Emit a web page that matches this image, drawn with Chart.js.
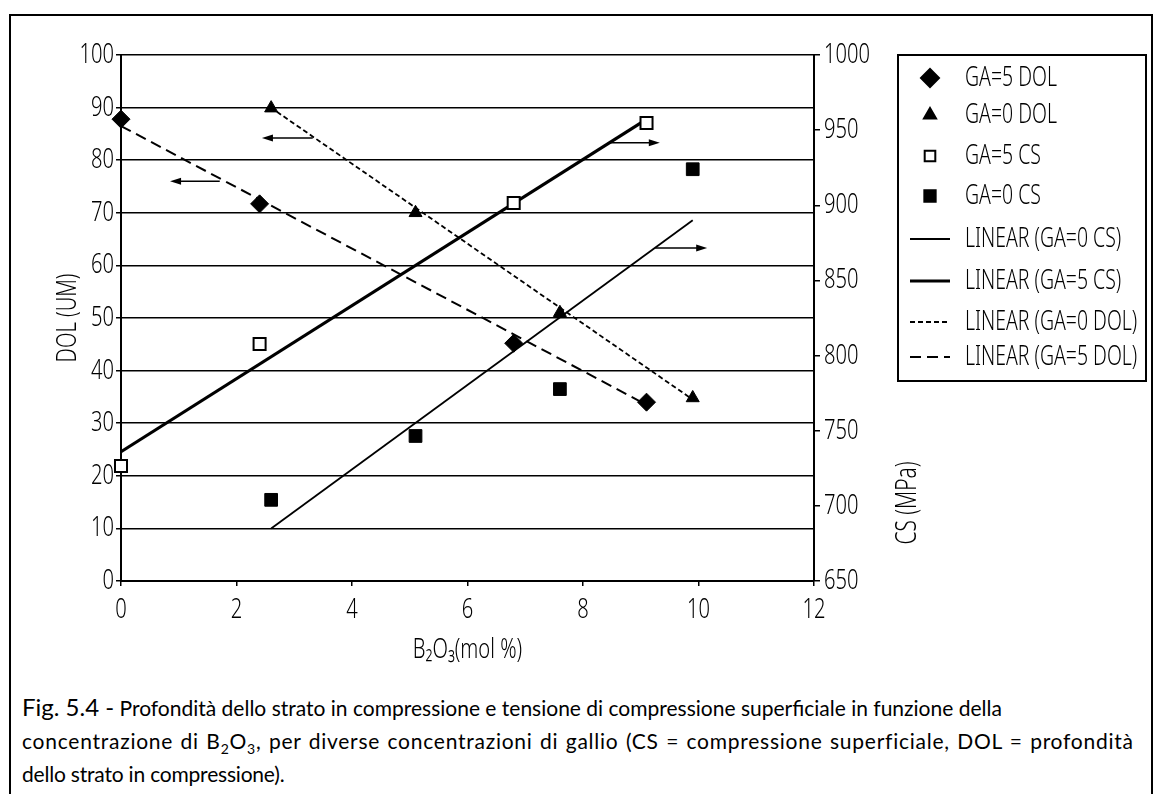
<!DOCTYPE html>
<html>
<head>
<meta charset="utf-8">
<title>DOL e CS in funzione di B2O3</title>
<script src="https://cdn.jsdelivr.net/npm/chart.js@4.4.1/dist/chart.umd.min.js"></script>
<style>
    html, body { margin: 0; padding: 0; background: #fff; }
    body { width: 1153px; height: 794px; overflow: hidden; position: relative; }
    #frame { position: absolute; left: 9px; top: 14px; width: 1140px; height: 800px; border: 2px solid #000; }
    #chartBox { position: absolute; left: 0; top: 0; width: 1153px; height: 680px; }
    #caption { position: absolute; left: 22px; top: 690px; font-family: Lato, 'Open Sans', sans-serif; font-size: 21px; line-height: 33px; color: #000; white-space: nowrap; }
    #caption .fig { font-size: 24px; letter-spacing: 0; }
    #caption .l1 { letter-spacing: 0; }
    #caption .l2 { letter-spacing: 0.75px; word-spacing: 1.3px; }
    #caption .l3 { letter-spacing: -0.2px; }
    #caption sub { font-size: 14px; line-height: 0; }
</style>
</head>
<body>
<div id="frame"></div>
<div id="chartBox"><canvas id="b2o3Chart" width="1153" height="680"></canvas></div>
<div id="caption">
    <span class="fig">Fig. 5.4 -</span> <span class="l1">Profondità dello strato in compressione e tensione di compressione superficiale in funzione della</span><br>
    <span class="l2">concentrazione di B<sub>2</sub>O<sub>3</sub>, per diverse concentrazioni di gallio (CS = compressione superficiale, DOL = profondità</span><br>
    <span class="l3">dello strato in compressione).</span>
</div>
<script>
// measured points
const b2o3Ga5 = [0, 2.4, 6.8, 9.1];
const b2o3Ga0 = [2.6, 5.1, 7.6, 9.9];
const dolGa5 = [87.8, 71.7, 45.2, 34.0];
const dolGa0 = [89.9, 70.0, 51.0, 34.8];
const csGa5 = [726.5, 807.7, 901.5, 954.7];
const csGa0 = [704.0, 746.5, 777.7, 924.0];

// linear trend lines (end points)
const fitCsGa0X = [2.6, 9.9];
const fitCsGa0 = [685, 890];
const fitCsGa5X = [0, 9.05];
const fitCsGa5 = [736, 956];
const fitDolGa0X = [2.7, 9.9];
const fitDolGa0 = [89.2, 34.5];
const fitDolGa5X = [0, 9.1];
const fitDolGa5 = [86.5, 33.5];

// arrows telling which axis a curve belongs to (x from tail to head, DOL level)
const arrowTails = [1.71, 3.32, 8.43, 9.25];
const arrowHeads = [0.85, 2.44, 9.33, 10.15];
const arrowLevels = [76.0, 84.2, 83.3, 63.3];

const xTicks = [0, 2, 4, 6, 8, 10, 12];
const dolTicks = [0, 100, 10];
const csTicks = [650, 1000, 50];

// light face, squeezed horizontally to get a condensed look
const NARROW = "'Noto Sans', 'Open Sans', sans-serif";
const THIN = '300';
const SQUEEZE = 0.72;
const INK = '#000';
Chart.defaults.font.family = NARROW;
Chart.defaults.font.weight = THIN;
Chart.defaults.color = INK;

function condenseText(ctx, factor) {
    const fill = ctx.fillText;
    const measure = ctx.measureText;
    ctx.fillText = function (text, x, y, maxWidth) {
        this.save();
        this.translate(x, y);
        this.scale(factor, 1);
        if (maxWidth === undefined) {
            fill.call(this, text, 0, 0);
        } else {
            fill.call(this, text, 0, 0, maxWidth / factor);
        }
        this.restore();
    };
    ctx.measureText = function (text) {
        const m = measure.call(this, text);
        return {
            width: m.width * factor,
            actualBoundingBoxAscent: m.actualBoundingBoxAscent,
            actualBoundingBoxDescent: m.actualBoundingBoxDescent,
            actualBoundingBoxLeft: m.actualBoundingBoxLeft * factor,
            actualBoundingBoxRight: m.actualBoundingBoxRight * factor
        };
    };
}

const toXY = (xs, ys) => xs.map((x, i) => ({ x, y: ys[i] }));

const arrowPlugin = {
    id: 'axisArrows',
    afterDatasetsDraw(chart) {
        const { ctx, scales: { x, y } } = chart;
        ctx.save();
        ctx.strokeStyle = '#000';
        ctx.fillStyle = '#000';
        ctx.lineWidth = 1.5;
        arrowTails.forEach((tail, i) => {
            const x1 = x.getPixelForValue(tail);
            const x2 = x.getPixelForValue(arrowHeads[i]);
            const py = y.getPixelForValue(arrowLevels[i]);
            const dir = Math.sign(x2 - x1);
            ctx.beginPath();
            ctx.moveTo(x1, py);
            ctx.lineTo(x2 - dir * 8, py);
            ctx.stroke();
            ctx.beginPath();
            ctx.moveTo(x2, py);
            ctx.lineTo(x2 - dir * 11, py - 3.5);
            ctx.lineTo(x2 - dir * 11, py + 3.5);
            ctx.closePath();
            ctx.fill();
        });
        ctx.restore();
    }
};

const rightTitlePlugin = {
    id: 'rightTitle',
    afterDraw(chart) {
        const { ctx } = chart;
        const scale = chart.scales.y2;
        ctx.save();
        ctx.translate(scale.left + 94, scale.bottom - 78);
        ctx.rotate(-Math.PI / 2);
        ctx.font = `${THIN} 29px ${NARROW}`;
        ctx.fillStyle = INK;
        ctx.textAlign = 'center';
        ctx.textBaseline = 'middle';
        ctx.fillText('CS (MPa)', 0, 0);
        ctx.restore();
    }
};

const boxLegendPlugin = {
    id: 'boxLegend',
    afterDraw(chart) {
        const { ctx } = chart;
        const left = 898, top = 55, right = 1146, bottom = 381;
        const rows = [78, 115, 156, 196, 239, 281, 322, 357];
        ctx.save();
        ctx.strokeStyle = '#000';
        ctx.lineWidth = 2;
        ctx.strokeRect(left, top, right - left, bottom - top);
        ctx.font = `${THIN} 27px ${NARROW}`;
        ctx.textBaseline = 'middle';
        chart.data.datasets.forEach((ds, i) => {
            const yy = rows[i];
            if (ds.showLine) {
                ctx.save();
                ctx.strokeStyle = ds.borderColor;
                ctx.lineWidth = ds.borderWidth;
                ctx.setLineDash(ds.borderDash || []);
                ctx.beginPath();
                ctx.moveTo(910, yy);
                ctx.lineTo(950, yy);
                ctx.stroke();
                ctx.restore();
            } else {
                ctx.save();
                ctx.fillStyle = ds.backgroundColor;
                ctx.strokeStyle = ds.borderColor;
                Chart.helpers.drawPoint(ctx, {
                    pointStyle: ds.pointStyle,
                    radius: ds.legendRadius,
                    borderWidth: ds.borderWidth,
                    rotation: 0
                }, 930, yy);
                ctx.restore();
            }
            ctx.fillStyle = INK;
            ctx.fillText(ds.label, 965, yy);
        });
        ctx.restore();
    }
};

const markerDefaults = { showLine: false, clip: false, borderColor: '#000' };
const lineDefaults = { showLine: true, pointRadius: 0, clip: false, borderColor: '#000', backgroundColor: '#000' };

const canvas = document.getElementById('b2o3Chart');
condenseText(canvas.getContext('2d'), SQUEEZE);

new Chart(canvas, {
    type: 'scatter',
    data: {
        datasets: [
            { ...markerDefaults, label: 'GA=5 DOL', data: toXY(b2o3Ga5, dolGa5), yAxisID: 'y',
              pointStyle: 'rectRot', pointRadius: 9, legendRadius: 9, backgroundColor: '#000', borderWidth: 1 },
            { ...markerDefaults, label: 'GA=0 DOL', data: toXY(b2o3Ga0, dolGa0), yAxisID: 'y',
              pointStyle: 'triangle', pointRadius: 7.5, legendRadius: 7, backgroundColor: '#000', borderWidth: 1 },
            { ...markerDefaults, label: 'GA=5 CS', data: toXY(b2o3Ga5, csGa5), yAxisID: 'y2',
              pointStyle: 'rect', pointRadius: 8.5, legendRadius: 7.5, backgroundColor: '#fff', borderWidth: 2 },
            { ...markerDefaults, label: 'GA=0 CS', data: toXY(b2o3Ga0, csGa0), yAxisID: 'y2',
              pointStyle: 'rect', pointRadius: 9, legendRadius: 8, backgroundColor: '#000', borderWidth: 1 },
            { ...lineDefaults, label: 'LINEAR (GA=0 CS)', data: toXY(fitCsGa0X, fitCsGa0), yAxisID: 'y2',
              borderWidth: 1.8 },
            { ...lineDefaults, label: 'LINEAR (GA=5 CS)', data: toXY(fitCsGa5X, fitCsGa5), yAxisID: 'y2',
              borderWidth: 3.2 },
            { ...lineDefaults, label: 'LINEAR (GA=0 DOL)', data: toXY(fitDolGa0X, fitDolGa0), yAxisID: 'y',
              borderWidth: 1.8, borderDash: [5, 3] },
            { ...lineDefaults, label: 'LINEAR (GA=5 DOL)', data: toXY(fitDolGa5X, fitDolGa5), yAxisID: 'y',
              borderWidth: 2, borderDash: [11, 6] }
        ]
    },
    options: {
        responsive: false,
        animation: false,
        events: [],
        layout: { padding: { top: 55, left: 0, right: 259, bottom: 0 } },
        plugins: {
            legend: { display: false },
            tooltip: { enabled: false }
        },
        scales: {
            x: {
                type: 'linear',
                position: 'bottom',
                min: xTicks[0],
                max: xTicks[xTicks.length - 1],
                afterBuildTicks: scale => { scale.ticks = xTicks.map(v => ({ value: v })); },
                ticks: { font: { size: 28 }, padding: 7, color: INK, callback: v => String(v) },
                grid: { drawOnChartArea: false, drawTicks: true, tickLength: 5, color: '#000', lineWidth: 1.5 },
                border: { color: '#000', width: 2 },
                title: { display: true, text: 'B₂O₃(mol %)', color: INK, font: { size: 28 }, padding: { top: 0, bottom: 13 } },
                afterFit: scale => { scale.height = 99; }
            },
            y: {
                position: 'left',
                min: dolTicks[0],
                max: dolTicks[1],
                ticks: { stepSize: dolTicks[2], font: { size: 28 }, padding: 2, color: INK, callback: v => String(v) },
                grid: { color: '#000', lineWidth: 1.5, drawTicks: true, tickLength: 5 },
                border: { color: '#000', width: 2 },
                title: { display: true, text: 'DOL (UM)', color: INK, font: { size: 28 }, padding: { top: 51, bottom: 0 } },
                afterFit: scale => { scale.width = 121; }
            },
            y2: {
                position: 'right',
                min: csTicks[0],
                max: csTicks[1],
                ticks: { stepSize: csTicks[2], font: { size: 28 }, padding: 4, color: INK, callback: v => String(v) },
                grid: { drawOnChartArea: false, drawTicks: true, tickLength: 6, color: '#000', lineWidth: 1.5 },
                border: { color: '#000', width: 2 },
                afterFit: scale => { scale.width = 80; }
            }
        }
    },
    plugins: [arrowPlugin, rightTitlePlugin, boxLegendPlugin]
});
</script>
</body>
</html>
